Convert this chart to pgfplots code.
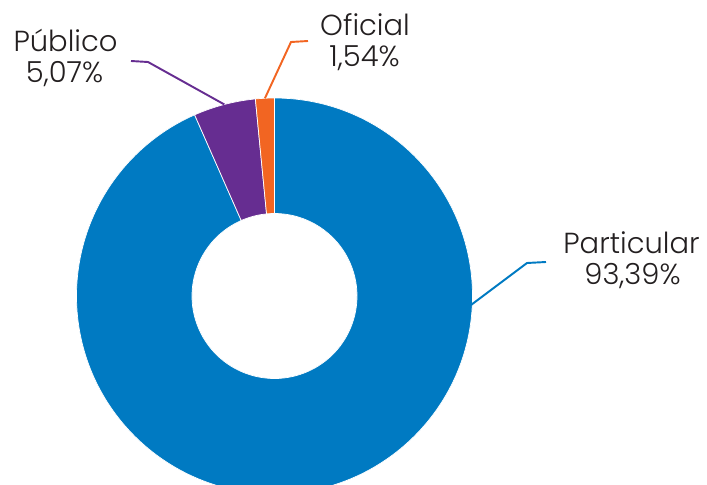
\documentclass[border=0pt]{standalone}
\usepackage{fontspec}
\setmainfont{Poppins}[UprightFont=* Light]
\usepackage{pgfplots}
\usepackage{pgfplotstable}
\pgfplotsset{compat=1.18}

\definecolor{cPart}{RGB}{0,122,194}
\definecolor{cPub}{RGB}{102,45,145}
\definecolor{cOfi}{RGB}{242,101,34}
\definecolor{cTxt}{RGB}{35,31,32}

% share of each type (%)
\pgfplotstableread{
tipo        valor
Particular  93.39
Publico     5.07
Oficial     1.54
}\datos

\begin{document}
\begin{tikzpicture}
\pgfplotstablegetelem{0}{valor}\of\datos \let\vPart\pgfplotsretval
\pgfplotstablegetelem{1}{valor}\of\datos \let\vPub\pgfplotsretval
\pgfplotstablegetelem{2}{valor}\of\datos \let\vOfi\pgfplotsretval
\begin{axis}[
    name=ax,
    x=1cm, y=1cm,
    xmin=0, xmax=14.14,
    ymin=0, ymax=9.68,
    hide axis,
    scale only axis,
]
% centre and radii of the donut
\def\cx{5.49}\def\cy{3.76}\def\ro{3.96}\def\ri{1.65}
% angles, clockwise from the top
\pgfmathsetmacro{\aA}{90}
\pgfmathsetmacro{\aB}{90-3.6*\vPart}
\pgfmathsetmacro{\aC}{\aB-3.6*\vPub}
\pgfmathsetmacro{\aD}{\aC-3.6*\vOfi}
\pgfmathsetmacro{\mPub}{(\aB+\aC)/2}
\pgfmathsetmacro{\mOfi}{(\aC+\aD)/2}

\fill[cPart, draw=white, line width=0.4pt] ([shift={(\aA:\ro)}]\cx,\cy) arc[start angle=\aA, end angle=\aB, radius=\ro]
  -- ([shift={(\aB:\ri)}]\cx,\cy) arc[start angle=\aB, end angle=\aA, radius=\ri] -- cycle;
\fill[cPub, draw=white, line width=0.4pt] ([shift={(\aB:\ro)}]\cx,\cy) arc[start angle=\aB, end angle=\aC, radius=\ro]
  -- ([shift={(\aC:\ri)}]\cx,\cy) arc[start angle=\aC, end angle=\aB, radius=\ri] -- cycle;
\fill[cOfi, draw=white, line width=0.4pt] ([shift={(\aC:\ro)}]\cx,\cy) arc[start angle=\aC, end angle=\aD, radius=\ro]
  -- ([shift={(\aD:\ri)}]\cx,\cy) arc[start angle=\aD, end angle=\aC, radius=\ri] -- cycle;

% leader lines
\draw[cPub, line width=1.1pt] ([shift={(\mPub:\ro)}]\cx,\cy) -- (2.96,8.44) -- (2.62,8.46);
\draw[cOfi, line width=1.1pt] ([shift={(\mOfi:\ro)}]\cx,\cy) -- (5.82,8.84) -- (6.16,8.86);
\draw[cPart, line width=1.1pt] (9.42,3.58) -- (10.54,4.42) -- (10.92,4.44);

% labels
\begin{scope}[every node/.style={text=cTxt, font=\fontsize{16.5}{18}\selectfont, anchor=base, inner sep=0pt}]
\node at (1.31,8.646) {Público};
\node at (1.29,8.034) {5,07\%};
\node at (7.30,8.98) {Oficial};
\node at (7.29,8.346) {1,54\%};
\node at (12.63,4.614) {Particular};
\node at (12.65,4.00) {93,39\%};
\end{scope}
\end{axis}
\pgfresetboundingbox
\useasboundingbox (ax.south west) rectangle (ax.north east);
\end{tikzpicture}
\end{document}
